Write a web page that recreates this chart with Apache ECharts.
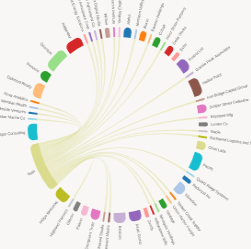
<!DOCTYPE html>
<html><head><meta charset="utf-8">
<script src="https://cdn.jsdelivr.net/npm/echarts@6/dist/echarts.min.js"></script>
<style>html,body{margin:0;padding:0;background:#f8f7f5;overflow:hidden;} #c{width:273px;height:249px;transform:scaleX(0.92);transform-origin:0 0;}</style>
</head><body><div id="c"></div>
<script>
const palette = ['#1f77b4','#aec7e8','#ff7f0e','#ffbb78','#2ca02c','#98df8a','#d62728','#ff9896','#9467bd','#c5b0d5','#8c564b','#c49c94','#e377c2','#f7b6d2','#7f7f7f','#c7c7c7','#bcbd22','#dbdb8d','#17becf','#9edae5'];
const nodeNames = ['Alpha','Northern Valley Group','Bravo','Eastern Holdings','Cobalt','River Stone Partners','Delta Works','Echo','Foxtrot Ltd','Granite Peak Associates','Harbor Point','Iron Bridge Capital Group','Juniper Street Collective','Keystone Mfg','Lumen Co','Maple','Northwind Logistics and Transport','Orion Labs','Pacific','Quartz Ridge Systems','Redwood Inc','Silverline','Timber Creek Supply','Union Harbor Freight','Vantage','Westgate Holdings','Yellowstone Mills','Zenith','Atlas Group','Beacon','Crescent Media','Driftwood Studio','Evergreen Trust','Falcon','Glacier','Highland Partners','Indigo Networks','Yeah','Jasper Consulting','Kingfisher Marine Co','Lakeside Ventures','Meridian Health','Nova Analytics','Oakmont Realty','Pinnacle','Quantum','Ridgeway','Summit Energy Solutions','Trident Aerospace Corp','Uplands Agricultural Co','Vertex Digital Media','Willow','Xenon Research Institute','Yardley Engineering Group'];
const nodeValues = [5,0,4,0,4,0,4,2.5,8,0,11,0,5,0,2.5,0,0,5,11,0,2.5,7,0,0,3.5,0,0,2.5,8,8,0,0,6,4,3,0,9,30,10,0,0,0,0,9,6,14,11,0,0,0,0,3,0,0];
const hubName = 'Yeah';
const linkTargets = ['Highland Partners','Driftwood Studio','Crescent Media','Yellowstone Mills','Westgate Holdings','Union Harbor Freight','Timber Creek Supply','Quartz Ridge Systems','Northwind Logistics and Transport','Maple','Keystone Mfg','Iron Bridge Capital Group','Granite Peak Associates','River Stone Partners','Eastern Holdings','Northern Valley Group','Yardley Engineering Group','Xenon Research Institute','Vertex Digital Media','Uplands Agricultural Co','Trident Aerospace Corp','Summit Energy Solutions','Nova Analytics','Meridian Health','Lakeside Ventures','Kingfisher Marine Co'];
const linkValues = [1.15,1.15,1.15,1.15,1.15,1.15,1.15,1.15,1.15,1.15,1.15,1.15,1.15,1.15,1.15,1.15,1.15,1.15,1.15,1.15,1.15,1.15,1.15,1.15,1.15,1.15];

const nodes = nodeNames.map((n, i) => {
  const d = { name: n, itemStyle: { color: palette[i % 20] } };
  if (nodeValues[i]) d.value = nodeValues[i];
  return d;
});
const links = linkTargets.map((t, i) => ({ source: hubName, target: t, value: linkValues[i] }));

const chart = echarts.init(document.getElementById('c'), null, { renderer: 'canvas', width: 273, height: 249 });
chart.setOption({
  backgroundColor: '#f8f7f5',
  animation: false,
  series: [{
    type: 'chord',
    center: [128, 125],
    radius: [88, 98],
    startAngle: 86,
    clockwise: true,
    padAngle: 2.35,
    label: { show: false },
    lineStyle: { color: 'source', opacity: 0.45 },
    data: nodes,
    links: links
  }]
});

// radial labels placed from the chord layout computed by ECharts
try {
  const data = chart.getModel().getSeriesByIndex(0).getData();
  const texts = [];
  data.each(function (idx) {
    const lay = data.getItemLayout(idx);
    if (!lay) return;
    const mid = (lay.startAngle + lay.endAngle) / 2;
    const rr = lay.r + 3;
    const x = lay.cx + rr * Math.cos(mid);
    const y = lay.cy + rr * Math.sin(mid);
    const left = Math.cos(mid) < 0;
    texts.push({
      type: 'text', x: x, y: y,
      rotation: left ? Math.PI - mid : -mid,
      silent: true,
      style: {
        text: data.getName(idx), fontSize: 4, fill: '#666', fontFamily: 'Liberation Sans, sans-serif',
        align: left ? 'right' : 'left', verticalAlign: 'middle'
      }
    });
  });
  chart.setOption({ graphic: texts });
} catch (err) { console.error(err); }
</script></body></html>
